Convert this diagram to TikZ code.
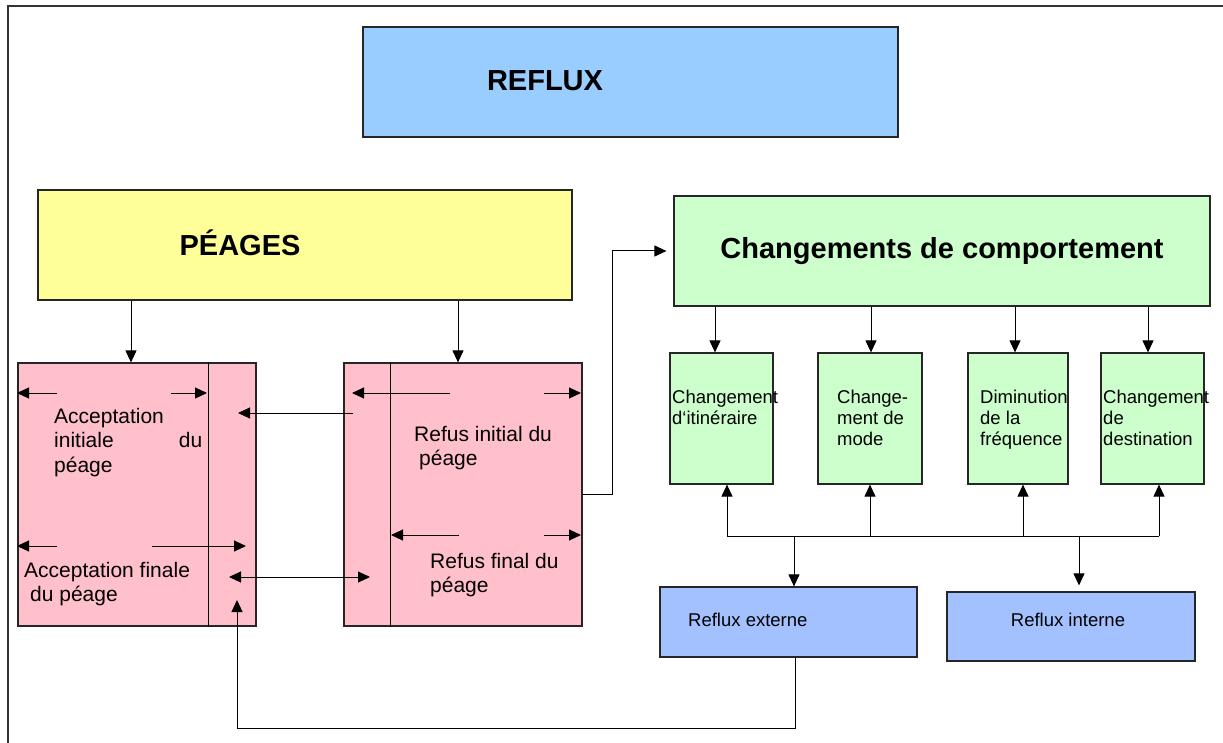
\documentclass[tikz,border=0pt]{standalone}
\usepackage{fontspec}
\setmainfont{Liberation Sans}
\usetikzlibrary{arrows.meta}
\definecolor{refluxblue}{HTML}{99CCFF}
\definecolor{peageyellow}{HTML}{FFFF99}
\definecolor{chgreen}{HTML}{CCFFCC}
\definecolor{pinkbox}{HTML}{FFC0CB}
\definecolor{lowblue}{HTML}{A3C1FF}
\begin{document}
\begin{tikzpicture}[x=1pt,y=-1pt,
  box/.style={draw=black!85,line width=1.2pt,inner sep=0pt},
  arr/.style={-{Triangle[length=12pt,width=11pt]},line width=1pt},
  dbl/.style={{Triangle[length=12pt,width=11pt]}-{Triangle[length=12pt,width=11pt]},line width=1pt},
  big/.style={font=\fontsize{29}{34}\selectfont\bfseries,inner sep=0pt},
  txt/.style={font=\fontsize{21}{24.5}\selectfont,align=left,anchor=north west,inner sep=0pt},
  small/.style={font=\fontsize{18.5}{21}\selectfont,align=left,anchor=north west,inner sep=0pt}]
\useasboundingbox (0,0) rectangle (1223,743);
\draw[line width=1.2pt,black!80] (8,743)--(8,6)--(1223,6);
% top row
\node[box,fill=refluxblue,minimum width=535pt,minimum height=110pt] (reflux) at (630.5,82) {};
\node[big] (refluxT) at (545,81) {REFLUX};
\node[box,fill=peageyellow,minimum width=534pt,minimum height=110pt] (peages) at (305,245) {};
\node[big] (peagesT) at (240,243) {PÉAGES};
\node[box,big,fill=chgreen,minimum width=536pt,minimum height=110pt] (chg) at (942,251) {Changements de comportement};
% pink boxes
\node[box,fill=pinkbox,minimum width=238pt,minimum height=263pt] (accL) at (137,494.5) {};
\node[box,fill=pinkbox,minimum width=238pt,minimum height=263pt] (refR) at (463,494.5) {};
\draw[line width=1.2pt] ([xshift=191pt]accL.north west) -- ([xshift=191pt]accL.south west);
\draw[line width=1.2pt] ([xshift=47pt]refR.north west) -- ([xshift=47pt]refR.south west);
\node[txt,text width=148pt] (accIT) at (54,408) {Acceptation\\initiale\hfill du\\péage};
\node[txt] (accFT) at (24,562) {Acceptation finale\\\hspace*{6pt}du péage};
\node[txt] (refIT) at (414,426) {Refus initial du\\\hspace*{5pt}péage};
\node[txt] (refFT) at (430,553) {Refus final du\\péage};
% green boxes
\foreach \n/\cx/\w/\tx/\t in {g1/721.5/103/672/{Changement\\d‘itinéraire},g2/870/104/837/{Change-\\ment de\\mode},g3/1018/100/980/{Diminution\\de la\\fréquence},g4/1152.5/103/1103/{Changement\\de\\destination}}{
  \node[box,fill=chgreen,minimum width=\w pt,minimum height=131pt] (\n) at (\cx,418.5) {};
  \node[small] (\n t) at (\tx,390) {\t};
}
% bottom boxes
\node[box,fill=lowblue,minimum width=257pt,minimum height=70pt] (rExt) at (788.5,622) {};
\node[small,anchor=west] (rExtT) at (688,620) {Reflux externe};
\node[box,fill=lowblue,minimum width=248pt,minimum height=69pt] (rInt) at (1071,626.5) {};
\node[small,anchor=center] (rIntT) at (1068,620) {Reflux interne};
% connectors
\draw[arr] ([xshift=-6pt]accL.north |- peages.south) -- ([xshift=-6pt]accL.north);
\draw[arr] ([xshift=-5pt]refR.north |- peages.south) -- ([xshift=-5pt]refR.north);
\foreach \n/\dx in {g1/-6.5,g2/1,g3/-3,g4/-4.5}
  \draw[arr] ([xshift=\dx pt]\n.north |- chg.south) -- ([xshift=\dx pt]\n.north);
\coordinate (bus) at (0,536);
\draw[line width=1pt] ([xshift=5.5pt]g1.south |- bus) -- ([xshift=6.5pt]g4.south |- bus);
\foreach \n/\dx in {g1/5.5,g2/0,g3/5,g4/6.5}
  \draw[arr] ([xshift=\dx pt]\n.south |- bus) -- ([xshift=\dx pt]\n.south);
\draw[arr] ([xshift=5.5pt]rExt.north |- bus) -- ([xshift=5.5pt]rExt.north);
\draw[arr,shorten >=6pt] ([xshift=8pt]rInt.north |- bus) -- ([xshift=8pt]rInt.north);
\coordinate (loopEnd) at (237,600);
\draw[arr] ([xshift=6.5pt]rExt.south) -- ++(0,71) -| (loopEnd);
\draw[arr,shorten >=7pt] (refR.east) -- ++(30,0) |- (chg.west);
\coordinate (ri) at (353,413);
\coordinate (ai) at (238,413);
\draw[arr] (ri) -- (ai);
\coordinate (af) at (229,577);
\coordinate (rf) at (370,577);
\draw[dbl] (af) -- (rf);
% arrows inside the pink boxes
\foreach \a/\b/\y in {57/17/393,171/207/393,57/17/546,152/246/546,450/352/393,544/581/393,459/391/535,544/581/535}
  \draw[arr] (\a,\y) -- (\b,\y);
\end{tikzpicture}
\end{document}
